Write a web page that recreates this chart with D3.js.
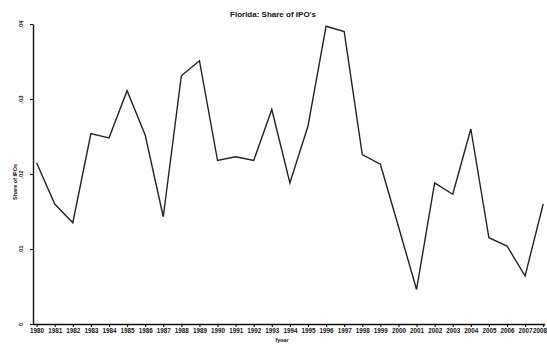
<!DOCTYPE html>
<html>
<head>
<meta charset="utf-8">
<script src="https://cdn.jsdelivr.net/npm/d3@7"></script>
<style>
  html, body { margin: 0; padding: 0; background: #fff; }
  svg { display: block; }
  text { font-family: "Liberation Sans", Arial, sans-serif; font-weight: bold; fill: #111; }
</style>
</head>
<body>
<svg id="chart" width="547" height="346"></svg>
<script>
// Florida's share of IPOs by fiscal year
const years = d3.range(1980, 2009);
const share = [
  0.0215, 0.0160, 0.0135, 0.0254, 0.0248, 0.0311, 0.0252, 0.0143,
  0.0331, 0.0351, 0.0218, 0.0223, 0.0218, 0.0286, 0.0188, 0.0264,
  0.0397, 0.0390, 0.0226, 0.0213, 0.0130, 0.0046, 0.0188, 0.0173,
  0.0260, 0.0115, 0.0104, 0.0064, 0.0160
];
const yTicks = [0, 0.01, 0.02, 0.03, 0.04];
const yTickLabels = ["0", ".01", ".02", ".03", ".04"];

const svg = d3.select("#chart");
const plotLeft = 33, plotRight = 545, plotTop = 24, plotBottom = 324;

const x = d3.scaleLinear().domain([1979.8, 2008.1]).range([plotLeft, plotRight]);
const y = d3.scaleLinear().domain([0, 0.04]).range([plotBottom, plotTop]);

// title
svg.append("text")
  .attr("x", 273).attr("y", 17)
  .attr("text-anchor", "middle")
  .style("font-size", "8px")
  .text("Florida: Share of IPO's");

// y axis
const yAxis = svg.append("g")
  .attr("transform", `translate(${plotLeft},0)`)
  .call(d3.axisLeft(y).tickValues(yTicks).tickSize(3).tickSizeOuter(0)
    .tickFormat((d, i) => yTickLabels[i]));
yAxis.select(".domain").attr("stroke", "#111").attr("stroke-width", 1.4);
yAxis.selectAll(".tick line").attr("stroke", "#111").attr("stroke-width", 1.1);
yAxis.selectAll(".tick text")
  .attr("x", 0).attr("y", 0)
  .attr("transform", "translate(-12,0) rotate(-90)")
  .attr("text-anchor", "middle")
  .attr("dy", "0.35em")
  .style("font-size", "6px")
  .style("font-family", "\"Liberation Sans\", Arial, sans-serif")
  .style("font-weight", "bold");

svg.append("text")
  .attr("transform", `translate(15,${(plotTop + plotBottom) / 2 + 8}) rotate(-90)`)
  .attr("text-anchor", "middle")
  .attr("dy", "0.35em")
  .style("font-size", "5.5px")
  .text("Share of IPOs");

// x axis
const xAxis = svg.append("g")
  .attr("transform", `translate(0,${plotBottom})`)
  .call(d3.axisBottom(x).tickValues(years).tickSize(3).tickSizeOuter(0)
    .tickFormat(d3.format("d")));
xAxis.select(".domain").attr("stroke", "#111").attr("stroke-width", 1.5)
  .attr("d", `M${plotLeft},0.5H${plotRight}`);
xAxis.selectAll(".tick line").attr("stroke", "#111").attr("stroke-width", 1.1);
xAxis.selectAll(".tick text")
  .attr("y", 5)
  .style("font-size", "6.3px")
  .style("font-family", "\"Liberation Sans\", Arial, sans-serif")
  .style("font-weight", "bold");
// keep the last year label inside the right edge
xAxis.selectAll(".tick text")
  .filter(d => d === years[years.length - 1])
  .attr("text-anchor", "end")
  .attr("dx", 3.3);

svg.append("text")
  .attr("x", 282).attr("y", 342)
  .attr("text-anchor", "middle")
  .style("font-size", "5.5px")
  .text("fyear");

// series line
const line = d3.line()
  .x((d, i) => x(years[i]))
  .y(d => y(d));

svg.append("path")
  .datum(share)
  .attr("fill", "none")
  .attr("stroke", "#222")
  .attr("stroke-width", 1.4)
  .attr("stroke-linejoin", "miter")
  .attr("d", line);
</script>
</body>
</html>
